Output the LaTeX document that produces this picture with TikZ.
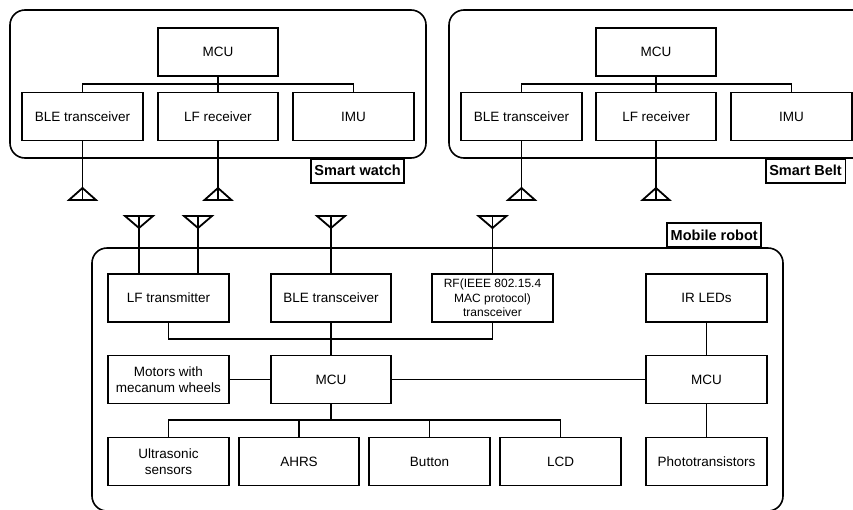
\documentclass[tikz,border=0pt]{standalone}
\usepackage{fontspec}
\setmainfont{Liberation Sans}
\begin{document}
\begin{tikzpicture}[x=1pt,y=-1pt,
  box/.style={draw,line width=1.8pt,minimum width=120.5pt,minimum height=48pt,inner sep=1pt,align=center,font=\fontsize{13.5}{16}\selectfont},
  smallbox/.style={box,font=\fontsize{12}{14.5}\selectfont},
  lab/.style={draw,line width=1.6pt,fill=white,minimum height=24pt,inner xsep=3.5pt,inner ysep=1pt,font=\fontsize{14.5}{16}\selectfont\bfseries},
  cont/.style={line width=1.6pt,rounded corners=15pt},
  wire/.style={line width=1.8pt},
  antup/.pic={\draw[line width=1.8pt,line join=miter] (-13.5,0) -- (13.5,0) -- (0,-12) -- cycle;},
  antdown/.pic={\draw[line width=1.8pt,line join=miter] (-14,0) -- (14,0) -- (0,12) -- cycle;}]
\useasboundingbox (0,0) rectangle (853,509);

% containers
\draw[cont] (10,10) rectangle (426,158);
\draw[cont] (449,10) rectangle (875,158);
\draw[cont] (92,248) rectangle (783,511);

% Smart watch
\node[box] (wmcu) at (218,52) {MCU};
\node[box] (wble) at (82.5,116.5) {BLE transceiver};
\node[box] (wlf) at (218,116.5) {LF receiver};
\node[box] (wimu) at (353.5,116.5) {IMU};
\draw[wire] (wble.north) -- ++(0,-7.5) -| (wimu.north);
\draw[wire] (wmcu.south) -- (wlf.north);
\coordinate (wa1) at (82.5,200);
\coordinate (wa2) at (218,200);
\draw[wire] (wble.south) -- (wa1);
\draw[wire] (wlf.south) -- (wa2);
\pic at (wa1) {antup};
\pic at (wa2) {antup};
\node[lab,anchor=north east] (wlab) at (405,158) {Smart watch};

% Smart belt
\node[box] (bmcu) at (656,52) {MCU};
\node[box] (bble) at (521.5,116.5) {BLE transceiver};
\node[box] (blf) at (656,116.5) {LF receiver};
\node[box] (bimu) at (791.5,116.5) {IMU};
\draw[wire] (bble.north) -- ++(0,-7.5) -| (bimu.north);
\draw[wire] (bmcu.south) -- (blf.north);
\coordinate (ba1) at (521.5,200);
\coordinate (ba2) at (656,200);
\draw[wire] (bble.south) -- (ba1);
\draw[wire] (blf.south) -- (ba2);
\pic at (ba1) {antup};
\pic at (ba2) {antup};
\node[lab,anchor=north west] (blab) at (765,158) {Smart Belt};

% Mobile robot
\node[lab,anchor=south east] (rlab) at (762,248) {Mobile robot};
\node[box] (rlf) at (168.5,298) {LF transmitter};
\node[box] (rble) at (331,298) {BLE transceiver};
\node[smallbox] (rrf) at (492.5,298) {RF(IEEE 802.15.4\\MAC protocol)\\transceiver};
\node[box] (rir) at (706.5,298) {IR LEDs};
\node[box] (rmot) at (168.5,379.5) {Motors with\\mecanum wheels};
\node[box] (rmcu) at (331,379.5) {MCU};
\node[box] (rmcu2) at (706.5,379.5) {MCU};
\node[box] (rus) at (168.5,461.5) {Ultrasonic\\sensors};
\node[box] (rahrs) at (299,461.5) {AHRS};
\node[box] (rbtn) at (429.5,461.5) {Button};
\node[box] (rlcd) at (560.5,461.5) {LCD};
\node[box] (rph) at (706.5,461.5) {Phototransistors};

\coordinate (ra1) at (139,216);
\coordinate (ra2) at (198,216);
\coordinate (ra3) at (331,216);
\coordinate (ra4) at (492.5,216);
\draw[wire] (ra1) -- (ra1 |- rlf.north);
\draw[wire] (ra2) -- (ra2 |- rlf.north);
\draw[wire] (ra3) -- (rble.north);
\draw[wire] (ra4) -- (rrf.north);
\pic at (ra1) {antdown};
\pic at (ra2) {antdown};
\pic at (ra3) {antdown};
\pic at (ra4) {antdown};

\draw[wire] (rlf.south) -- ++(0,16) -| (rrf.south);
\draw[wire] (rble.south) -- (rmcu.north);
\draw[wire] (rmot) -- (rmcu);
\draw[wire] (rmcu) -- (rmcu2);
\draw[wire] (rir) -- (rmcu2);
\draw[wire] (rmcu2) -- (rph);
\draw[wire] (rus.north) -- ++(0,-17) -| (rlcd.north);
\draw[wire] (rmcu.south) -- ++(0,17);
\draw[wire] (rahrs.north) -- ++(0,-17);
\draw[wire] (rbtn.north) -- ++(0,-17);
\end{tikzpicture}
\end{document}
